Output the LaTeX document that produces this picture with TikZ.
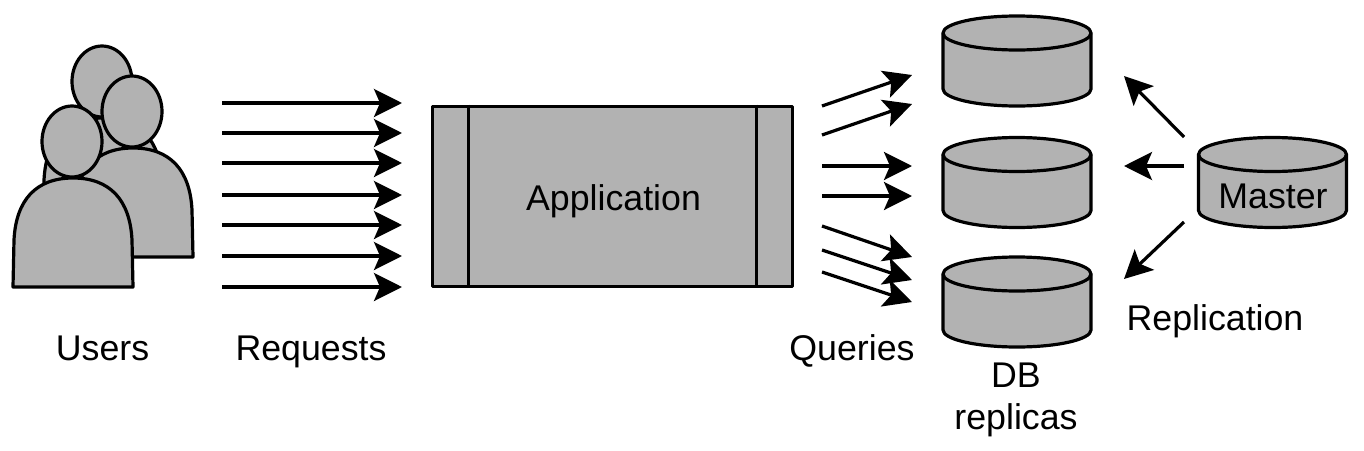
\documentclass[tikz,border=0pt]{standalone}
\usepackage{fontspec}
\setmainfont{Liberation Sans}
\usetikzlibrary{arrows.meta}
\definecolor{boxgray}{HTML}{B2B2B2}
\tikzset{
  solid line/.style={line width=2.4pt,draw=black,fill=boxgray,line join=round},
  flow/.style={line width=2.4pt,-{Stealth[length=21pt,width=21pt,inset=4.5pt]}},
  dbcan/.pic={
    \draw[solid line] (-74,-28) -- (-74,28)
       arc[start angle=180,end angle=0,x radius=74,y radius=17]
       -- (74,-28) arc[start angle=0,end angle=-180,x radius=74,y radius=17] -- cycle;
    \draw[solid line,fill=none] (-74,-28)
       arc[start angle=180,end angle=0,x radius=74,y radius=17];
  },
  lbl/.style={inner sep=0pt,anchor=base,font=\fontsize{26.8}{32}\selectfont}
}
\begin{document}
\begin{tikzpicture}[x=0.75pt,y=-0.75pt]
\useasboundingbox (0,0) rectangle (1364,450);
%The three people, back one first so the others sit on top of it
\foreach \dx/\dy in {30/-60,60/-30,0/0}{
  \draw[solid line,shift={(\dx,\dy)}] (13,287) -- (14,240)
     .. controls (16,200) and (36,178) .. (73,178)
     .. controls (110,178) and (130,200) .. (132,240)
     -- (133,287) -- cycle;
  \draw[solid line] (72+\dx,141.5+\dy) ellipse [x radius=30,y radius=35.5];
}
\node[lbl] (users) at (102.5,360) {Users};
%Requests: one arrow for each height
\foreach \i/\h in {1/103,2/133,3/163,4/195,5/225,6/256,7/287}{
  \coordinate (reqa\i) at (222,\h);
  \coordinate (reqb\i) at (402,\h);
  \draw[flow] (reqa\i) -- (reqb\i);
}
\node[lbl] (requests) at (311,360) {Requests};
%The application box with its two inner lines
\node[solid line,minimum width=270pt,minimum height=135.5pt,inner sep=0pt] (app) at (612.5,196.5) {};
\node[lbl] (apptext) at (613.5,210) {Application};
\draw[line width=2.4pt] ([xshift=28.4pt]app.north west) -- ([xshift=28.4pt]app.south west);
\draw[line width=2.4pt] ([xshift=-28pt]app.north east) -- ([xshift=-28pt]app.south east);
%Database replicas and the master
\pic (db1) at (1017,61) {dbcan};
\pic (db2) at (1017,182.5) {dbcan};
\pic (db3) at (1017,302) {dbcan};
\pic (master) at (1272.5,182.5) {dbcan};
\node[lbl] (mastertext) at (1273,208) {Master};
%Queries going to the replicas
\foreach \i/\ya/\yb in {1/106/75,2/135/104,3/166/166,4/196/196,5/226/257,6/250/280,7/272/302}{
  \coordinate (qa\i) at (822,\ya);
  \coordinate (qb\i) at (912,\yb);
  \draw[flow] (qa\i) -- (qb\i);
}
\node[lbl] (queries) at (852,360) {Queries};
%Replication arrows from the master
\foreach \i/\ya/\yb in {1/137/76,2/166/166,3/222/279}{
  \coordinate (ra\i) at (1184,\ya);
  \coordinate (rb\i) at (1124,\yb);
  \draw[flow] (ra\i) -- (rb\i);
}
\node[lbl] (replication) at (1215,330) {Replication};
\node[lbl] (dbtext) at (1016,387) {DB};
\node[lbl] (replicas) at (1016,429) {replicas};
\end{tikzpicture}
\end{document}
